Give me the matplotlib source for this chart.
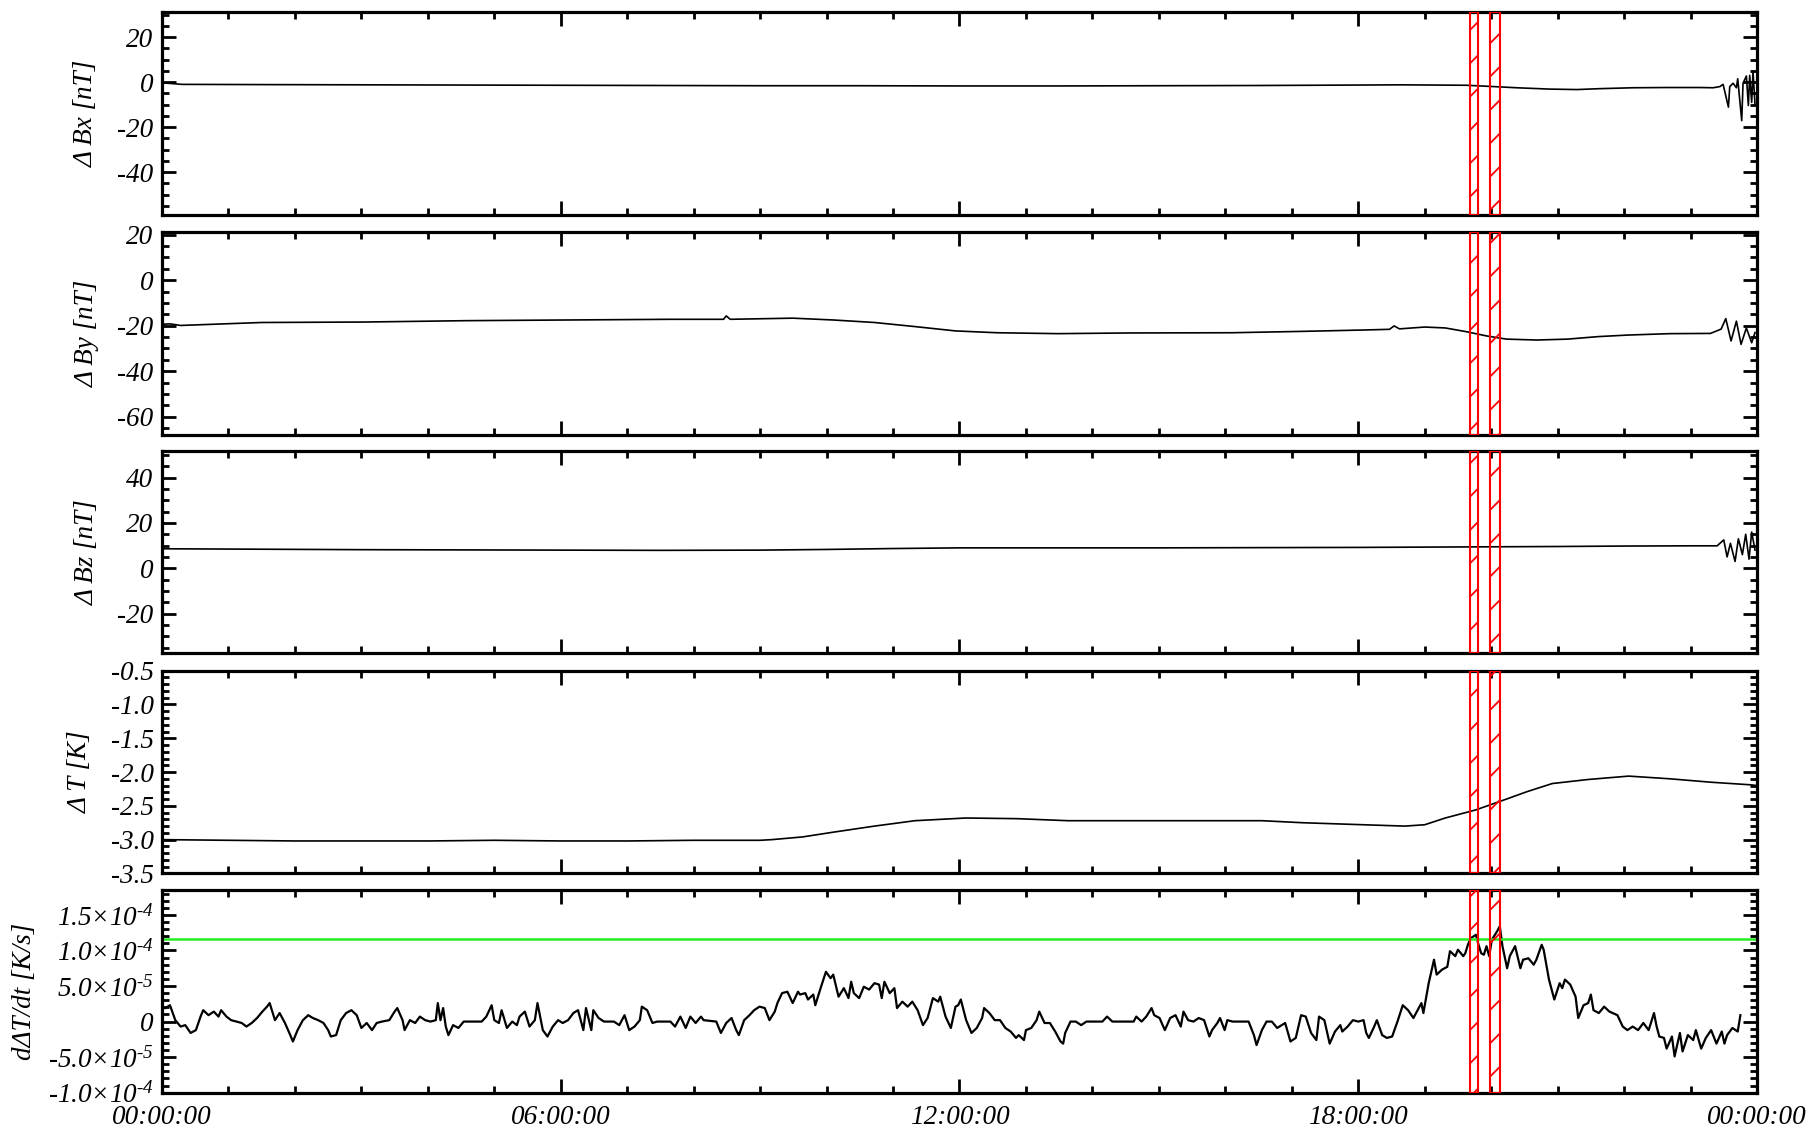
import matplotlib
matplotlib.use('Agg')
import matplotlib.pyplot as plt
from matplotlib.ticker import MultipleLocator, FixedLocator, FuncFormatter

# ---------------- data (hours of day, values) ----------------
bx_hours = [0.0, 0.3, 1.5, 3.0, 4.5, 6.0, 7.5, 9.0, 10.5, 12.0, 13.5, 15.0, 16.5, 18.0,
            18.63, 19.63, 19.98, 20.38, 20.88, 21.29, 21.64, 22.14, 22.64, 23.14, 23.34,
            23.44, 23.49, 23.57, 23.59, 23.64, 23.69, 23.71, 23.77, 23.79, 23.84, 23.87,
            23.89, 23.92, 23.94, 23.97]
bx_nT = [-0.3, -1.0, -1.1, -1.2, -1.3, -1.4, -1.5, -1.6, -1.6, -1.7, -1.7, -1.6, -1.5, -1.3,
         -1.2, -1.4, -1.9, -2.5, -3.1, -3.3, -2.9, -2.5, -2.4, -2.4, -2.5,
         -2.0, -1.0, -11.1, -2.0, -0.5, -2.5, 1.5, -17.1, -0.5, 2.7, -10.4,
         3.0, -9.0, 4.9, -10.0]

by_hours = [0.0, 0.12, 0.28, 1.5, 3.04, 4.58, 6.11, 7.65, 8.45, 8.49, 8.55, 9.49, 10.1,
            10.72, 11.33, 11.94, 12.56, 13.48, 14.55, 16.09, 17.16, 18.08, 18.47, 18.54,
            18.62, 19.0, 19.31, 19.62, 19.93, 20.23, 20.69, 21.15, 21.61, 22.07, 22.69,
            23.3, 23.46, 23.53, 23.61, 23.69, 23.76, 23.84, 23.92, 23.97]
by_nT = [-19.4, -19.2, -19.9, -18.6, -18.4, -17.8, -17.5, -17.2, -17.2, -15.7, -17.2, -16.7,
         -17.5, -18.6, -20.4, -22.3, -23.1, -23.5, -23.2, -23.1, -22.5, -21.9, -21.6, -20.1,
         -21.4, -20.6, -21.0, -22.6, -24.5, -25.9, -26.3, -25.9, -24.8, -24.1, -23.5,
         -23.4, -21.5, -16.9, -26.7, -18.0, -28.2, -21.0, -27.5, -23.0]

bz_hours = [0.0, 1.5, 3.0, 4.5, 6.0, 7.5, 9.0, 10.0, 11.0, 12.0, 13.5, 15.0, 16.5, 18.0,
            19.5, 21.0, 22.0, 23.0, 23.4, 23.5, 23.55, 23.6, 23.67, 23.72, 23.78, 23.83,
            23.88, 23.92, 23.97]
bz_nT = [8.6, 8.4, 8.2, 8.1, 8.0, 7.9, 8.0, 8.3, 8.7, 9.0, 9.0, 9.0, 9.1, 9.2,
         9.4, 9.6, 9.8, 9.9, 9.9, 12.5, 5.0, 11.0, 3.0, 13.0, 6.0, 15.0,
         4.0, 16.0, 8.0]

temp_hours = [0, 1, 2, 3, 4, 5, 6, 7, 8, 9, 9.18, 9.64, 10.1, 10.72, 11.33, 12.1, 12.87,
              13.63, 14.55, 15.32, 16.55, 17.16, 18.08, 18.7, 19.0, 19.31, 19.77, 20.23,
              20.54, 20.92, 21.46, 22.07, 22.69, 23.3, 23.92, 24.0]
temp_K = [-3.00, -3.01, -3.02, -3.02, -3.02, -3.01, -3.02, -3.02, -3.01, -3.01, -3.00,
          -2.96, -2.89, -2.80, -2.72, -2.68, -2.69, -2.72, -2.72, -2.72, -2.72, -2.75,
          -2.78, -2.80, -2.78, -2.68, -2.56, -2.40, -2.29, -2.17, -2.11, -2.06, -2.10,
          -2.15, -2.19, -2.20]

dtdt_hours = [0.05, 0.12, 0.20, 0.28, 0.35, 0.43, 0.51, 0.58, 0.62, 0.70, 0.78, 0.85, 0.89,
              0.97, 1.04, 1.12, 1.20, 1.27, 1.35, 1.43, 1.51, 1.58, 1.62, 1.70, 1.77, 1.85,
              1.93, 1.97, 2.04, 2.12, 2.20, 2.27, 2.35, 2.43, 2.50, 2.54, 2.62, 2.69, 2.77,
              2.85, 2.93, 3.00, 3.08, 3.16, 3.23, 3.31, 3.42, 3.50, 3.54, 3.62, 3.65, 3.73,
              3.81, 3.88, 3.96, 4.04, 4.12, 4.15, 4.19, 4.23, 4.27, 4.31, 4.38, 4.46, 4.54,
              4.81, 4.88, 4.96, 5.00, 5.07, 5.11, 5.19, 5.27, 5.34, 5.38, 5.46, 5.53, 5.61,
              5.65, 5.73, 5.80, 5.88, 5.96, 6.03, 6.11, 6.19, 6.26, 6.34, 6.38, 6.46, 6.49,
              6.57, 6.65, 6.80, 6.88, 6.96, 7.03, 7.11, 7.19, 7.22, 7.30, 7.38, 7.45, 7.65,
              7.72, 7.80, 7.88, 7.95, 8.03, 8.11, 8.15, 8.34, 8.41, 8.49, 8.57, 8.64, 8.68,
              8.76, 8.84, 8.91, 8.99, 9.07, 9.14, 9.22, 9.26, 9.33, 9.41, 9.49, 9.57, 9.60,
              9.68, 9.72, 9.80, 9.83, 9.91, 9.99, 10.06, 10.10, 10.18, 10.26, 10.33, 10.37,
              10.41, 10.49, 10.56, 10.64, 10.72, 10.79, 10.83, 10.87, 10.95, 11.02, 11.06,
              11.14, 11.22, 11.29, 11.37, 11.45, 11.52, 11.60, 11.68, 11.71, 11.79, 11.87,
              11.94, 11.98, 12.02, 12.10, 12.18, 12.26, 12.34, 12.37, 12.45, 12.53, 12.61,
              12.69, 12.77, 12.85, 12.89, 12.97, 13.00, 13.08, 13.16, 13.20, 13.28, 13.36,
              13.44, 13.52, 13.56, 13.59, 13.67, 13.75, 13.83, 13.91, 14.15, 14.22, 14.30,
              14.62, 14.66, 14.74, 14.81, 14.89, 14.93, 15.01, 15.09, 15.17, 15.25, 15.33,
              15.37, 15.44, 15.52, 15.60, 15.68, 15.76, 15.80, 15.88, 15.92, 15.99, 16.03,
              16.11, 16.35, 16.43, 16.47, 16.55, 16.62, 16.70, 16.78, 16.90, 16.98, 17.06,
              17.14, 17.21, 17.29, 17.37, 17.41, 17.49, 17.57, 17.65, 17.73, 17.76, 17.84,
              17.92, 18.00, 18.08, 18.12, 18.16, 18.24, 18.28, 18.36, 18.43, 18.51, 18.59,
              18.67, 18.75, 18.83, 18.87, 18.95, 18.98, 19.06, 19.14, 19.18, 19.26, 19.34,
              19.38, 19.46, 19.50, 19.58, 19.61, 19.65, 19.69, 19.77, 19.81, 19.85, 19.89,
              19.93, 19.97, 20.01, 20.09, 20.13, 20.17, 20.24, 20.28, 20.36, 20.44, 20.48,
              20.56, 20.64, 20.68, 20.76, 20.79, 20.87, 20.95, 21.03, 21.07, 21.11, 21.19,
              21.27, 21.31, 21.39, 21.46, 21.50, 21.54, 21.62, 21.70, 21.78, 21.90, 21.98,
              22.05, 22.13, 22.21, 22.29, 22.37, 22.45, 22.49, 22.53, 22.60, 22.64, 22.72,
              22.76, 22.84, 22.88, 22.96, 23.04, 23.08, 23.16, 23.23, 23.31, 23.39, 23.47,
              23.51, 23.55, 23.63, 23.71, 23.75]
dtdt_1e5 = [1.9, 2.3, 0.2, -0.7, -0.5, -1.6, -1.2, 0.7, 1.6, 0.9, 1.4, 0.7, 1.6,
            0.7, 0.2, 0.0, -0.2, -0.7, -0.2, 0.5, 1.4, 2.1, 2.6, 0.2, 1.2, -0.2,
            -1.9, -2.8, -1.2, 0.2, 0.9, 0.5, 0.2, -0.2, -1.2, -2.1, -1.9, 0.2, 1.2,
            1.6, 0.9, -0.9, -0.2, -1.2, -0.2, 0.0, 0.2, 1.4, 1.9, 0.2, -1.2, 0.2,
            -0.2, 0.7, 0.2, 0.0, 0.2, 2.6, 0.2, 1.9, -0.7, -1.9, -0.5, -0.9, 0.0,
            0.0, 0.7, 2.3, 0.2, -0.2, 1.6, -0.9, 0.0, -0.5, 0.7, 1.4, -0.7, 0.2,
            2.6, -1.2, -2.1, -0.7, 0.2, -0.2, 0.2, 1.2, 1.6, -1.2, 1.9, -1.2, 1.6,
            0.5, 0.0, 0.0, -0.5, 0.9, -1.2, -0.7, 0.2, 2.1, 1.6, -0.2, 0.0, 0.0,
            -0.7, 0.7, -0.9, 0.7, -0.2, 0.7, 0.2, 0.0, -1.6, -0.2, 0.5, -1.2, -1.9,
            0.2, 0.9, 1.6, 2.1, 1.9, 0.2, 1.4, 2.6, 4.0, 4.2, 2.6, 4.2, 3.8,
            4.0, 3.1, 3.8, 2.3, 4.7, 7.0, 6.1, 6.6, 3.5, 4.7, 3.3, 5.6,
            4.0, 3.3, 4.9, 4.5, 5.4, 5.2, 3.3, 5.6, 4.0, 4.7, 1.9,
            2.8, 2.1, 2.8, 1.6, -0.5, 0.5, 3.3, 2.8, 3.5, 0.7, -0.9,
            2.1, 2.3, 3.1, 0.2, -1.6, -0.9, 0.5, 1.9, 1.2, 0.2, 0.2,
            -0.9, -1.4, -2.3, -1.9, -2.6, -1.2, -0.9, 0.2, 1.4, -0.2, -0.2,
            -1.4, -2.8, -3.1, -1.6, 0.0, 0.0, -0.5, 0.0, 0.0, 0.7, 0.0,
            0.0, 0.7, 0.0, 0.7, 1.9, 0.9, 0.5, -1.2, 0.5, 0.9, -0.7,
            1.4, 0.2, 0.0, 0.5, 0.2, -2.1, -1.2, -0.2, 0.5, -1.2, 0.2,
            0.0, 0.0, -1.9, -3.3, -1.2, 0.0, 0.0, -0.9, -0.2, -2.8, -2.3,
            0.9, 0.7, -1.6, -2.6, 0.7, 0.2, -3.1, -1.4, -0.5, -1.4, -0.7,
            0.2, 0.0, 0.2, -1.6, -2.3, -0.7, 0.2, -1.9, -2.3, -2.1, 0.0,
            2.3, 1.6, 0.5, 1.2, 2.6, 1.2, 5.4, 8.7, 6.6, 7.3, 7.7,
            9.9, 9.2, 10.1, 9.2, 9.6, 10.8, 11.7, 12.2, 10.8, 9.6, 9.4,
            10.6, 9.2, 11.5, 12.7, 13.4, 10.6, 7.5, 9.2, 10.6, 7.5, 8.7,
            8.9, 8.0, 8.7, 10.8, 10.1, 5.9, 3.1, 5.4, 4.7, 5.9, 5.2,
            3.5, 0.5, 2.3, 2.6, 3.8, 1.6, 1.2, 2.1, 1.4, 0.9, -0.7,
            -1.2, -0.7, -1.2, -0.2, -1.2, 1.2, -0.7, -2.1, -2.3, -3.8, -2.1,
            -4.9, -1.6, -4.2, -1.9, -2.6, -1.2, -3.8, -2.3, -1.2, -3.1, -1.4,
            -3.1, -1.9, -0.9, -1.4, 0.9]

threshold_Ks = 1.16e-4
event_windows = [(19.68, 19.80), (19.98, 20.14)]

xtick_hours = [0, 6, 12, 18, 24]
xtick_labels = ['00:00:00', '06:00:00', '12:00:00', '18:00:00', '00:00:00']

dtdt_ticks = [-1.0e-4, -5.0e-5, 0.0, 5.0e-5, 1.0e-4, 1.5e-4]
dtdt_tick_labels = ['-1.0×10$^{\\text{-4}}$', '-5.0×10$^{\\text{-5}}$', '0',
                    '5.0×10$^{\\text{-5}}$', '1.0×10$^{\\text{-4}}$', '1.5×10$^{\\text{-4}}$']

# ---------------- style ----------------
plt.rcParams.update({
    'font.family': ['Liberation Serif', 'DejaVu Serif'],
    'font.style': 'italic',
    'mathtext.fontset': 'custom',
    'mathtext.rm': 'Liberation Serif:italic',
    'mathtext.it': 'Liberation Serif:italic',
    'mathtext.bf': 'Liberation Serif:italic',
    'axes.unicode_minus': False,
    'hatch.linewidth': 1.3,
})

W, H = 1808, 1135
fig = plt.figure(figsize=(W / 100, H / 100), dpi=100)
left_px, right_px = 162, 1757
tops_px = [12.3, 232.3, 450.7, 670.7, 890.0]
ph = 202.7

axes = []
for top in tops_px:
    ax = fig.add_axes([left_px / W, 1 - (top + ph) / H, (right_px - left_px) / W, ph / H])
    axes.append(ax)

int_fmt = FuncFormatter(lambda v, p: f'{v:.0f}')
one_fmt = FuncFormatter(lambda v, p: f'{v:.1f}')

panels = [
    (bx_hours, bx_nT, r'Δ Bx [nT]', (-59, 31), 20, 5, int_fmt, -0.0395),
    (by_hours, by_nT, r'Δ By [nT]', (-68, 21), 20, 5, int_fmt, -0.0389),
    (bz_hours, bz_nT, r'Δ Bz [nT]', (-37.6, 51.9), 20, 5, int_fmt, -0.0389),
    (temp_hours, temp_K, r'Δ T [K]', (-3.5, -0.5), 0.5, 0.1, one_fmt, -0.0433),
]

for ax, (xs, ys, lab, ylim, maj, mnr, fmt, lx) in zip(axes[:4], panels):
    ax.plot(xs, ys, color='black', lw=1.2)
    ax.set_ylim(*ylim)
    ax.yaxis.set_major_locator(MultipleLocator(maj))
    ax.yaxis.set_minor_locator(MultipleLocator(mnr))
    ax.yaxis.set_major_formatter(fmt)
    ax.set_ylabel(lab, fontsize=19.5)
    ax.yaxis.set_label_coords(lx, 0.5)

ax5 = axes[4]
ax5.plot(dtdt_hours, [v * 1e-5 for v in dtdt_1e5], color='black', lw=1.6)
ax5.axhline(threshold_Ks, color='#22ee22', lw=1.8)
ax5.set_ylim(-1.0e-4, 1.85e-4)
ax5.yaxis.set_major_locator(FixedLocator(dtdt_ticks))
ax5.set_yticklabels(dtdt_tick_labels)
ax5.yaxis.set_minor_locator(MultipleLocator(1e-5))
ax5.set_ylabel(r'dΔT/dt [K/s]', fontsize=19.5)
ax5.yaxis.set_label_coords(-0.0784, 0.5)

for i, ax in enumerate(axes):
    ax.set_xlim(0, 24)
    ax.set_xticks(xtick_hours)
    ax.xaxis.set_minor_locator(MultipleLocator(1))
    ax.tick_params(which='both', direction='in', top=True, right=True, width=2.0,
                   labelsize=19.5, pad=6)
    ax.tick_params(which='major', length=10)
    ax.tick_params(which='minor', length=5)
    for s in ax.spines.values():
        s.set_linewidth(2.3)
    if i < 4:
        ax.tick_params(labelbottom=False)
    else:
        ax.set_xticklabels(xtick_labels)
        ax.tick_params(axis='x', pad=9)
    for (x0, x1) in event_windows:
        ax.axvspan(x0, x1, facecolor='none', edgecolor='red', hatch='/', lw=1.5, zorder=3)

fig.savefig('out.png', dpi=100)
